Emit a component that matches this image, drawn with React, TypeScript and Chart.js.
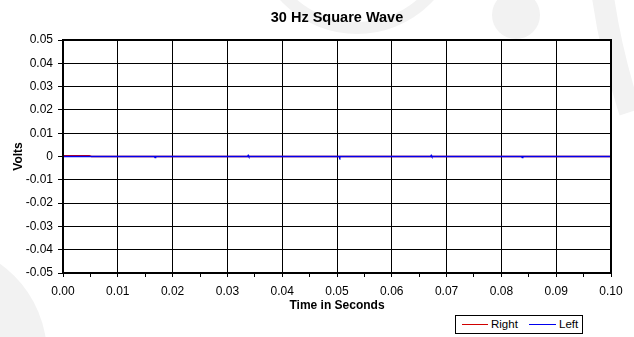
import React, { useEffect, useRef } from "react";
import { Chart, registerables } from "chart.js";

Chart.register(...registerables);

// ---- data ----
const chartTitle = "30 Hz Square Wave";
const xAxisTitle = "Time in Seconds";
const yAxisTitle = "Volts";
const seriesNames = ["Right", "Left"];

// Left channel (blue): essentially flat at 0 V, tiny blips at each half-period edge
const timeLeft = [0, 0.0167, 0.0168, 0.0169, 0.0337, 0.0338, 0.0339, 0.0504, 0.0505, 0.0506, 0.0671, 0.0672, 0.0673, 0.0837, 0.0838, 0.0839, 0.1];
const voltsLeft = [0, 0, -0.0004, 0, 0, 0.0004, 0, 0, -0.0004, 0, 0, 0.0004, 0, 0, -0.0004, 0, 0];

// Right channel (red): slight offset at the very start, then 0 V
const timeRight = [0, 0.0048, 0.0052, 0.1];
const voltsRight = [0.0003, 0.0003, 0, 0];

const xMin = 0;
const xMax = 0.1;
const xStep = 0.005; // minor tick step, labels on every second
const yMin = -0.05;
const yMax = 0.05;
const yStep = 0.01;

const FONT = "'Liberation Sans', Arial, Helvetica, sans-serif";
const RED = "#d00000";
const BLUE = "#0000ee";
const WATERMARK = "#f2f2f2";

const backdropPlugin = {
  id: "backdrop",
  beforeDraw(chart: any) {
    const { ctx, chartArea } = chart;
    ctx.save();
    ctx.fillStyle = "#ffffff";
    ctx.fillRect(0, 0, chart.width, chart.height);
    ctx.fillStyle = WATERMARK;
    ctx.strokeStyle = WATERMARK;
    // faint watermark shapes
    ctx.beginPath();
    ctx.arc(-65, 355, 112, 0, Math.PI * 2);
    ctx.fill();
    ctx.beginPath();
    ctx.arc(516, 15, 24, 0, Math.PI * 2);
    ctx.fill();
    ctx.lineWidth = 12;
    ctx.beginPath();
    ctx.arc(357, -70, 98, 0, Math.PI);
    ctx.stroke();
    ctx.lineWidth = 22;
    ctx.beginPath();
    ctx.moveTo(602, -10);
    ctx.quadraticCurveTo(610, 50, 630, 112);
    ctx.stroke();
    // white plot area
    ctx.fillStyle = "#ffffff";
    ctx.fillRect(chartArea.left, chartArea.top, chartArea.right - chartArea.left, chartArea.bottom - chartArea.top);
    ctx.restore();
  },
  afterDraw(chart: any) {
    const { ctx, chartArea } = chart;
    ctx.save();
    ctx.strokeStyle = "#000";
    ctx.lineWidth = 2;
    ctx.strokeRect(chartArea.left, chartArea.top, chartArea.right - chartArea.left, chartArea.bottom - chartArea.top);
    ctx.restore();
  },
};

function ChartView() {
  const ref = useRef<HTMLCanvasElement | null>(null);
  useEffect(() => {
    if (!ref.current) return;
    const chart = new Chart(ref.current, {
      type: "line",
      data: {
        datasets: [
          {
            label: seriesNames[1],
            data: timeLeft.map((t, i) => ({ x: t, y: voltsLeft[i] })),
            borderColor: BLUE,
            backgroundColor: BLUE,
            borderWidth: 1.5,
            pointRadius: 0,
            tension: 0,
          },
          {
            label: seriesNames[0],
            data: timeRight.map((t, i) => ({ x: t, y: voltsRight[i] })),
            borderColor: RED,
            backgroundColor: RED,
            borderWidth: 1.5,
            pointRadius: 0,
            tension: 0,
          },
        ],
      },
      options: {
        responsive: false,
        animation: false,
        devicePixelRatio: 1,
        layout: { padding: { left: 0, right: 23, top: 0, bottom: 0 } },
        plugins: {
          legend: { display: false },
          tooltip: { enabled: false },
          title: {
            display: true,
            text: chartTitle,
            fullSize: false,
            color: "#000",
            font: { family: FONT, size: 14.5, weight: "bold" },
            padding: { top: 9.3, bottom: 13.3 },
          },
        },
        scales: {
          x: {
            type: "linear",
            min: xMin,
            max: xMax,
            ticks: {
              stepSize: xStep,
              autoSkip: false,
              maxRotation: 0,
              color: "#000",
              padding: 7,
              font: { family: FONT, size: 12 },
              callback: (v: any, i: number) => (i % 2 === 0 ? Number(v).toFixed(2) : ""),
            },
            grid: {
              color: (c: any) => (c.index % 2 === 0 ? "#000" : "rgba(0,0,0,0)"),
              tickColor: "#000",
              tickLength: 4,
              lineWidth: 1,
            },
            border: { display: false },
            title: {
              display: true,
              text: xAxisTitle,
              color: "#000",
              font: { family: FONT, size: 12, weight: "bold" },
              padding: { top: 0, bottom: 24.5 },
            },
            afterFit: (s: any) => {
              s.height = 64;
            },
          },
          y: {
            type: "linear",
            min: yMin,
            max: yMax,
            ticks: {
              stepSize: yStep,
              color: "#000",
              padding: 5,
              font: { family: FONT, size: 12 },
              callback: (v: any) => {
                const n = Math.round(Number(v) * 100) / 100;
                return n === 0 ? "0" : n.toFixed(2);
              },
            },
            grid: { color: "#000", tickColor: "#000", tickLength: 5, lineWidth: 1 },
            border: { display: false },
            title: {
              display: true,
              text: yAxisTitle,
              color: "#000",
              font: { family: FONT, size: 12, weight: "bold" },
              padding: { top: 11.5, bottom: 0 },
            },
            afterFit: (s: any) => {
              s.width = 63;
            },
          },
        },
      },
      plugins: [backdropPlugin],
    });
    return () => chart.destroy();
  }, []);
  return <canvas ref={ref} width={634} height={337} style={{ display: "block", width: 634, height: 337 }} />;
}

export default function App() {
  const lineStyle = (color: string, left: number, width: number): React.CSSProperties => ({
    position: "absolute",
    left,
    top: 8,
    width,
    height: 0,
    borderTop: `1px solid ${color}`,
  });
  const textStyle = (left: number): React.CSSProperties => ({
    position: "absolute",
    left,
    top: 1,
    lineHeight: "15px",
    fontSize: 11.5,
  });
  return (
    <div style={{ position: "fixed", left: 0, top: 0, width: 634, height: 337, background: "#fff", fontFamily: FONT }}>
      <ChartView />
      <div
        style={{
          position: "absolute",
          left: 455,
          top: 315,
          width: 128,
          height: 19,
          boxSizing: "border-box",
          border: "1px solid #000",
          background: "#fff",
          color: "#000",
        }}
      >
        <div style={lineStyle(RED, 6, 26)} />
        <span style={textStyle(35)}>{seriesNames[0]}</span>
        <div style={lineStyle(BLUE, 73, 27)} />
        <span style={textStyle(103)}>{seriesNames[1]}</span>
      </div>
    </div>
  );
}
